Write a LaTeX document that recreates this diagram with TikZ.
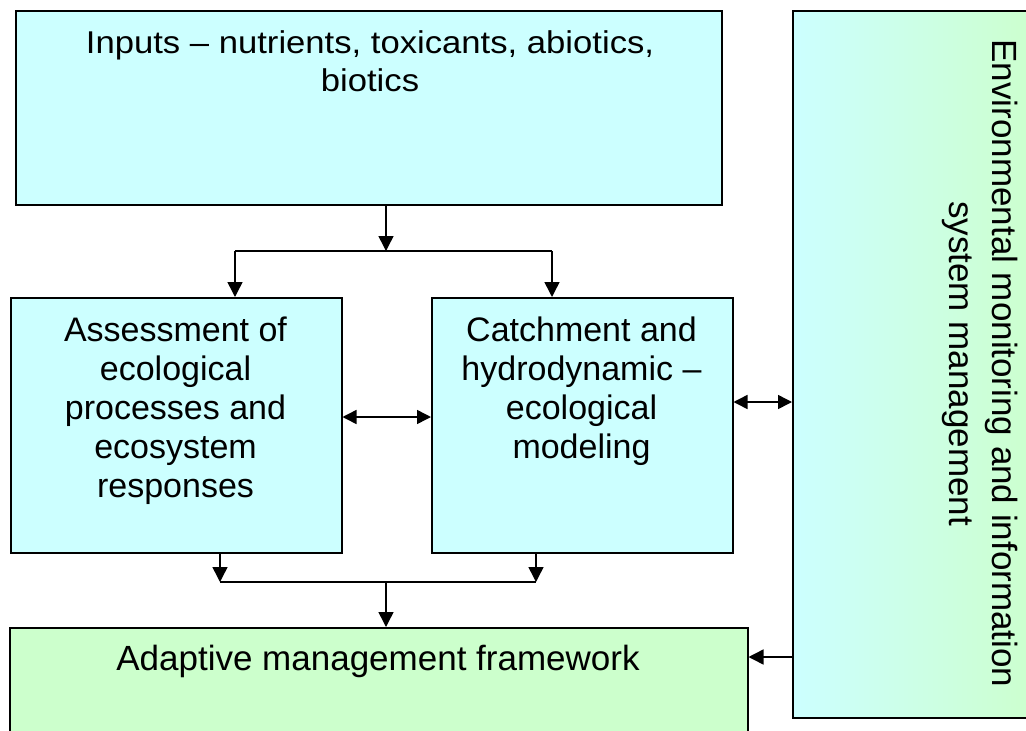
\documentclass[tikz,border=0pt]{standalone}
\usepackage{fontspec}
\setmainfont{Liberation Sans}
\newfontfamily\topfont[FakeStretch=1.1]{Liberation Sans}
\usetikzlibrary{arrows.meta}
\definecolor{boxcyan}{HTML}{CCFFFF}
\definecolor{boxgreen}{HTML}{CCFFCC}
\tikzset{
  box/.style={draw=black, line width=1.5pt, inner sep=0pt, anchor=north west},
  txt/.style={inner sep=0pt, align=center, anchor=north},
  arr/.style={line width=1.5pt, -{Triangle[length=15pt,width=15pt]}},
  darr/.style={line width=1.5pt, {Triangle[length=14pt,width=14pt]}-{Triangle[length=14pt,width=14pt]}},
  link/.style={line width=1.5pt}
}
\begin{document}
\begin{tikzpicture}[x=1pt,y=-1pt]
\useasboundingbox (0,0) rectangle (1026,731);
\clip (0,0) rectangle (1026,731);
% boxes
\node[box, fill=boxcyan, minimum width=706pt, minimum height=194pt] (inputs) at (15,10) {};
\node[box, fill=boxcyan, minimum width=331pt, minimum height=255pt] (assess) at (10,297) {};
\node[box, fill=boxcyan, minimum width=301pt, minimum height=255pt] (catch) at (431,297) {};
\node[box, fill=boxgreen, minimum width=738pt, minimum height=140pt] (adapt) at (9,627) {};
\node[box, left color=boxcyan, right color=boxgreen, minimum width=250pt, minimum height=707pt] (env) at (792,10) {};
% texts
\node[txt, font=\topfont\fontsize{31.5}{38.7}\selectfont] (inputsT) at (370,30) {Inputs – nutrients, toxicants, abiotics,\\ biotics};
\node[txt, font=\fontsize{34}{38.8}\selectfont] (assessT) at (175.5,317) {Assessment of\\ ecological\\ processes and\\ ecosystem\\ responses};
\node[txt, font=\fontsize{34}{38.8}\selectfont] (catchT) at (581.5,317) {Catchment and\\ hydrodynamic –\\ ecological\\ modeling};
\node[txt, font=\fontsize{35}{40}\selectfont] (adaptT) at (378,645) {Adaptive management framework};
\node[txt, rotate=-90, font=\fontsize{35}{43}\selectfont] (envT) at (1018,363.5) {Environmental monitoring and information\\ system management};
% coordinates
\coordinate (s1) at (386,251);
\coordinate (jL) at (235,251);
\coordinate (jR) at (552,251);
\coordinate (mL) at (220,582);
\coordinate (mR) at (536,582);
\coordinate (m) at (386,582);
\coordinate (h1) at (386,417);
\coordinate (h2) at (760,402);
\coordinate (h3) at (760,657);
% connectors top
\draw[arr] (s1 |- inputs.south) -- (s1);
\draw[link] (jL) -- (jR);
\draw[arr] (jL) -- (jL |- assess.north);
\draw[arr] (jR) -- (jR |- catch.north);
% connectors bottom
\draw[arr] (mL |- assess.south) -- (mL);
\draw[arr] (mR |- catch.south) -- (mR);
\draw[link] (mL) -- (mR);
\draw[arr] (m) -- (m |- adapt.north);
% horizontal double arrows
\draw[darr] (assess.east |- h1) -- (catch.west |- h1);
\draw[darr] (catch.east |- h2) -- (env.west |- h2);
\draw[arr] (env.west |- h3) -- (adapt.east |- h3);
\end{tikzpicture}
\end{document}
